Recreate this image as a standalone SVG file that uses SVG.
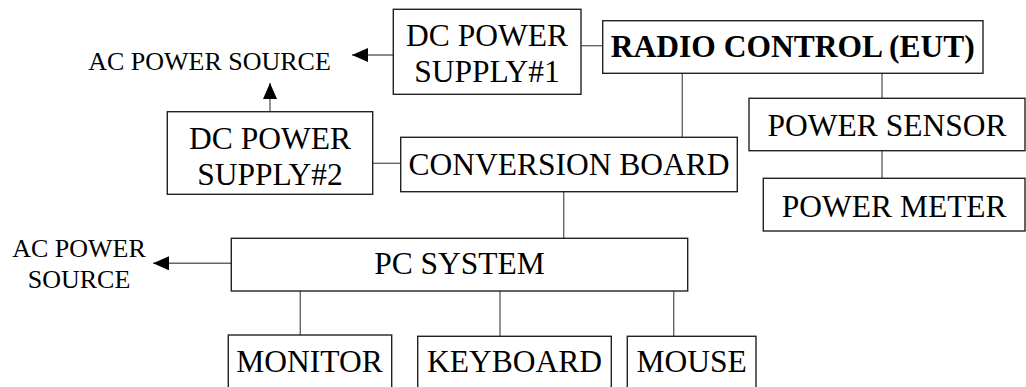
<svg xmlns="http://www.w3.org/2000/svg" width="1026" height="387" viewBox="0 0 1026 387">
<style>
.box{fill:#fff;stroke:#222;stroke-width:1.4}
.t{font-family:"Liberation Serif","Times New Roman",serif;font-size:31.5px;fill:#000;text-anchor:middle}
.s{font-family:"Liberation Serif","Times New Roman",serif;font-size:26px;fill:#000;text-anchor:middle}
.b{font-weight:bold}
.c{stroke:#666;stroke-width:1.4;fill:none}
</style>
<defs>
<marker id="ah" viewBox="0 0 16 14" refX="16" refY="7" markerWidth="16" markerHeight="14" orient="auto" markerUnits="userSpaceOnUse">
<path d="M0,0 L16,7 L0,14 Z" fill="#000"/>
</marker>
</defs>
<rect width="1026" height="387" fill="#fff"/>
<g id="connectors">
<line class="c" x1="393" y1="55" x2="352" y2="55" marker-end="url(#ah)"/>
<line class="c" x1="270" y1="111.7" x2="270" y2="83" marker-end="url(#ah)"/>
<line class="c" x1="581" y1="45.7" x2="603" y2="45.7"/>
<line class="c" x1="682.3" y1="73.3" x2="682.3" y2="137.3"/>
<line class="c" x1="882" y1="73.3" x2="882" y2="98.3"/>
<line class="c" x1="882" y1="150.7" x2="882" y2="178.3"/>
<line class="c" x1="372.7" y1="163.3" x2="400.7" y2="163.3"/>
<line class="c" x1="563.7" y1="191.7" x2="563.7" y2="238.3"/>
<line class="c" x1="231.3" y1="263.3" x2="153" y2="263.3" marker-end="url(#ah)"/>
<line class="c" x1="300.3" y1="291" x2="300.3" y2="335"/>
<line class="c" x1="500" y1="291" x2="500" y2="336.3"/>
<line class="c" x1="673.7" y1="291" x2="673.7" y2="336.3"/>
</g>
<g id="ac1">
<text class="s" x="209.5" y="70">AC POWER SOURCE</text>
</g>
<g id="ac2">
<text class="s" x="79" y="256.7">AC POWER</text>
<text class="s" x="79" y="288.3">SOURCE</text>
</g>
<g id="dc1">
<rect class="box" x="393.3" y="9.3" width="187.7" height="85"/>
<text class="t" x="487" y="45.7">DC POWER</text>
<text class="t" x="487" y="82">SUPPLY#1</text>
</g>
<g id="radio">
<rect class="box" x="602.7" y="20.7" width="380.3" height="52.6"/>
<text class="t b" x="792.8" y="57.3">RADIO CONTROL (EUT)</text>
</g>
<g id="sensor">
<rect class="box" x="749" y="98.3" width="276" height="52.4"/>
<text class="t" x="887" y="136">POWER SENSOR</text>
</g>
<g id="meter">
<rect class="box" x="763.3" y="178.3" width="261.7" height="52.7"/>
<text class="t" x="894.2" y="216.7">POWER METER</text>
</g>
<g id="dc2">
<rect class="box" x="167.3" y="111.7" width="205.4" height="82.6"/>
<text class="t" x="270" y="149">DC POWER</text>
<text class="t" x="270" y="185">SUPPLY#2</text>
</g>
<g id="conv">
<rect class="box" x="400.7" y="137.3" width="336.6" height="54.4"/>
<text class="t" x="569" y="175">CONVERSION BOARD</text>
</g>
<g id="pc">
<rect class="box" x="231.3" y="238.3" width="456.4" height="52.7"/>
<text class="t" x="459.5" y="274">PC SYSTEM</text>
</g>
<g id="monitor">
<rect class="box" x="228.3" y="335" width="163.4" height="70"/>
<text class="t" x="309.5" y="371.7">MONITOR</text>
</g>
<g id="keyboard">
<rect class="box" x="417.7" y="336.3" width="193.6" height="70"/>
<text class="t" x="514.5" y="372.3">KEYBOARD</text>
</g>
<g id="mouse">
<rect class="box" x="627.3" y="336.3" width="128.7" height="70"/>
<text class="t" x="691.7" y="372.3">MOUSE</text>
</g>
</svg>
